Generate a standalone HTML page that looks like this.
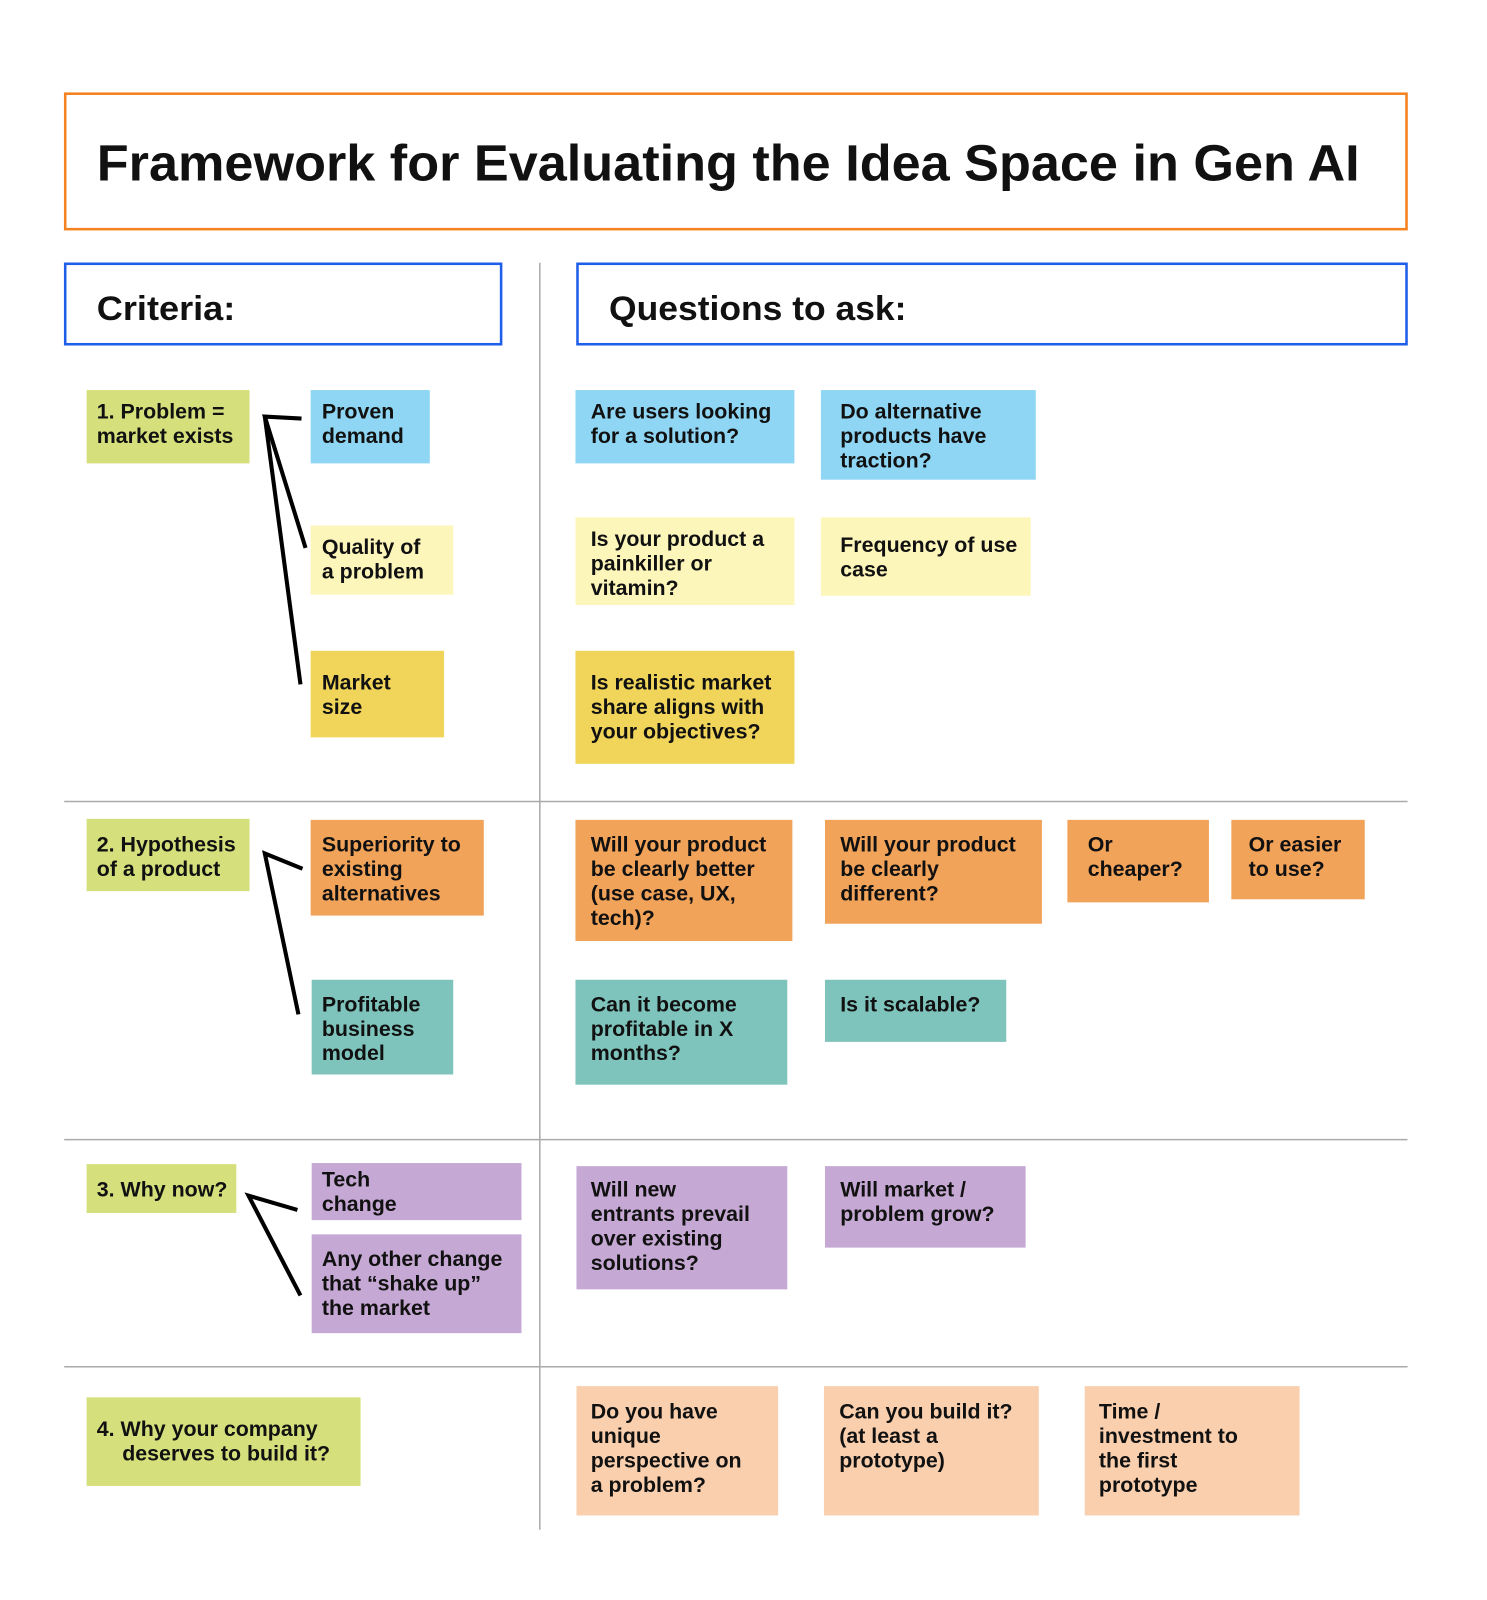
<!DOCTYPE html>
<html><head><meta charset="utf-8"><style>
html,body{margin:0;padding:0;background:#fff;}
svg{display:block;}
text{font-family:"Liberation Sans",sans-serif;font-weight:bold;fill:#111;}
.t{font-size:21px;}
</style></head><body>
<svg width="1487" height="1600" viewBox="0 0 1460 1571" xmlns="http://www.w3.org/2000/svg">
<rect x="0" y="0" width="1460" height="1571" fill="#fff"/>
<rect x="64" y="92" width="1317" height="133" fill="none" stroke="#f5821f" stroke-width="2.5"/>
<text x="95" y="177" font-size="50" textLength="1240" lengthAdjust="spacingAndGlyphs">Framework for Evaluating the Idea Space in Gen AI</text>
<rect x="64" y="259" width="428" height="79" fill="none" stroke="#1f5ee8" stroke-width="2.5"/>
<text x="95" y="314" font-size="34" textLength="136" lengthAdjust="spacingAndGlyphs">Criteria:</text>
<rect x="567" y="259" width="814" height="79" fill="none" stroke="#1f5ee8" stroke-width="2.5"/>
<text x="598" y="314" font-size="34" textLength="292" lengthAdjust="spacingAndGlyphs">Questions to ask:</text>
<g stroke="#aaa" stroke-width="1.5">
<line x1="530" y1="258" x2="530" y2="1502"/>
<line x1="63" y1="787" x2="1382" y2="787"/>
<line x1="63" y1="1119" x2="1382" y2="1119"/>
<line x1="63" y1="1342" x2="1382" y2="1342"/>
</g>
<g stroke="#000" stroke-width="4" fill="none" stroke-linecap="butt">
<polyline points="296,411 260,409 300,538"/><line x1="260" y1="409" x2="295" y2="672"/>
<polyline points="297,853 260,838 293,996"/>
<polyline points="292,1188 244,1174 295,1272"/>
</g>
<g class="t">
<!-- boxes -->
<rect x="85" y="383" width="160" height="72" fill="#d5e07c"/>
<text x="95" y="411">1. Problem =</text><text x="95" y="435">market exists</text>
<rect x="305" y="383" width="117" height="72" fill="#8fd6f4"/>
<text x="316" y="411">Proven</text><text x="316" y="435">demand</text>
<rect x="305" y="516" width="140" height="68" fill="#fdf6bb"/>
<text x="316" y="544">Quality of</text><text x="316" y="568">a problem</text>
<rect x="305" y="639" width="131" height="85" fill="#f0d55a"/>
<text x="316" y="677">Market</text><text x="316" y="701">size</text>

<rect x="565" y="383" width="215" height="72" fill="#8fd6f4"/>
<text x="580" y="411">Are users looking</text><text x="580" y="435">for a solution?</text>
<rect x="806" y="383" width="211" height="88" fill="#8fd6f4"/>
<text x="825" y="411">Do alternative</text><text x="825" y="435">products have</text><text x="825" y="459">traction?</text>
<rect x="565" y="508" width="215" height="86" fill="#fdf6bb"/>
<text x="580" y="536">Is your product a</text><text x="580" y="560">painkiller or</text><text x="580" y="584">vitamin?</text>
<rect x="806" y="508" width="206" height="77" fill="#fdf6bb"/>
<text x="825" y="542">Frequency of use</text><text x="825" y="566">case</text>
<rect x="565" y="639" width="215" height="111" fill="#f0d55a"/>
<text x="580" y="677">Is realistic market</text><text x="580" y="701">share aligns with</text><text x="580" y="725">your objectives?</text>

<rect x="85" y="804" width="160" height="71" fill="#d5e07c"/>
<text x="95" y="836">2. Hypothesis</text><text x="95" y="860">of a product</text>
<rect x="305" y="805" width="170" height="94" fill="#f2a35a"/>
<text x="316" y="836">Superiority to</text><text x="316" y="860">existing</text><text x="316" y="884">alternatives</text>
<rect x="306" y="962" width="139" height="93" fill="#7fc4bc"/>
<text x="316" y="993">Profitable</text><text x="316" y="1017">business</text><text x="316" y="1041">model</text>

<rect x="565" y="805" width="213" height="119" fill="#f2a35a"/>
<text x="580" y="836">Will your product</text><text x="580" y="860">be clearly better</text><text x="580" y="884">(use case, UX,</text><text x="580" y="908">tech)?</text>
<rect x="810" y="805" width="213" height="102" fill="#f2a35a"/>
<text x="825" y="836">Will your product</text><text x="825" y="860">be clearly</text><text x="825" y="884">different?</text>
<rect x="1048" y="805" width="139" height="81" fill="#f2a35a"/>
<text x="1068" y="836">Or</text><text x="1068" y="860">cheaper?</text>
<rect x="1209" y="805" width="131" height="78" fill="#f2a35a"/>
<text x="1226" y="836">Or easier</text><text x="1226" y="860">to use?</text>
<rect x="565" y="962" width="208" height="103" fill="#7fc4bc"/>
<text x="580" y="993">Can it become</text><text x="580" y="1017">profitable in X</text><text x="580" y="1041">months?</text>
<rect x="810" y="962" width="178" height="61" fill="#7fc4bc"/>
<text x="825" y="993">Is it scalable?</text>

<rect x="85" y="1143" width="147" height="48" fill="#d5e07c"/>
<text x="95" y="1175">3. Why now?</text>
<rect x="306" y="1142" width="206" height="56" fill="#c5a8d3"/>
<text x="316" y="1165">Tech</text><text x="316" y="1189">change</text>
<rect x="306" y="1212" width="206" height="97" fill="#c5a8d3"/>
<text x="316" y="1243">Any other change</text><text x="316" y="1267">that “shake up”</text><text x="316" y="1291">the market</text>
<rect x="566" y="1145" width="207" height="121" fill="#c5a8d3"/>
<text x="580" y="1175">Will new</text><text x="580" y="1199">entrants prevail</text><text x="580" y="1223">over existing</text><text x="580" y="1247">solutions?</text>
<rect x="810" y="1145" width="197" height="80" fill="#c5a8d3"/>
<text x="825" y="1175">Will market /</text><text x="825" y="1199">problem grow?</text>

<rect x="85" y="1372" width="269" height="87" fill="#d5e07c"/>
<text x="95" y="1410">4. Why your company</text><text x="120" y="1434">deserves to build it?</text>
<rect x="566" y="1361" width="198" height="127" fill="#f9cfae"/>
<text x="580" y="1393">Do you have</text><text x="580" y="1417">unique</text><text x="580" y="1441">perspective on</text><text x="580" y="1465">a problem?</text>
<rect x="809" y="1361" width="211" height="127" fill="#f9cfae"/>
<text x="824" y="1393">Can you build it?</text><text x="824" y="1417">(at least a</text><text x="824" y="1441">prototype)</text>
<rect x="1065" y="1361" width="211" height="127" fill="#f9cfae"/>
<text x="1079" y="1393">Time /</text><text x="1079" y="1417">investment to</text><text x="1079" y="1441">the first</text><text x="1079" y="1465">prototype</text>
</g>
</svg>
</body></html>
